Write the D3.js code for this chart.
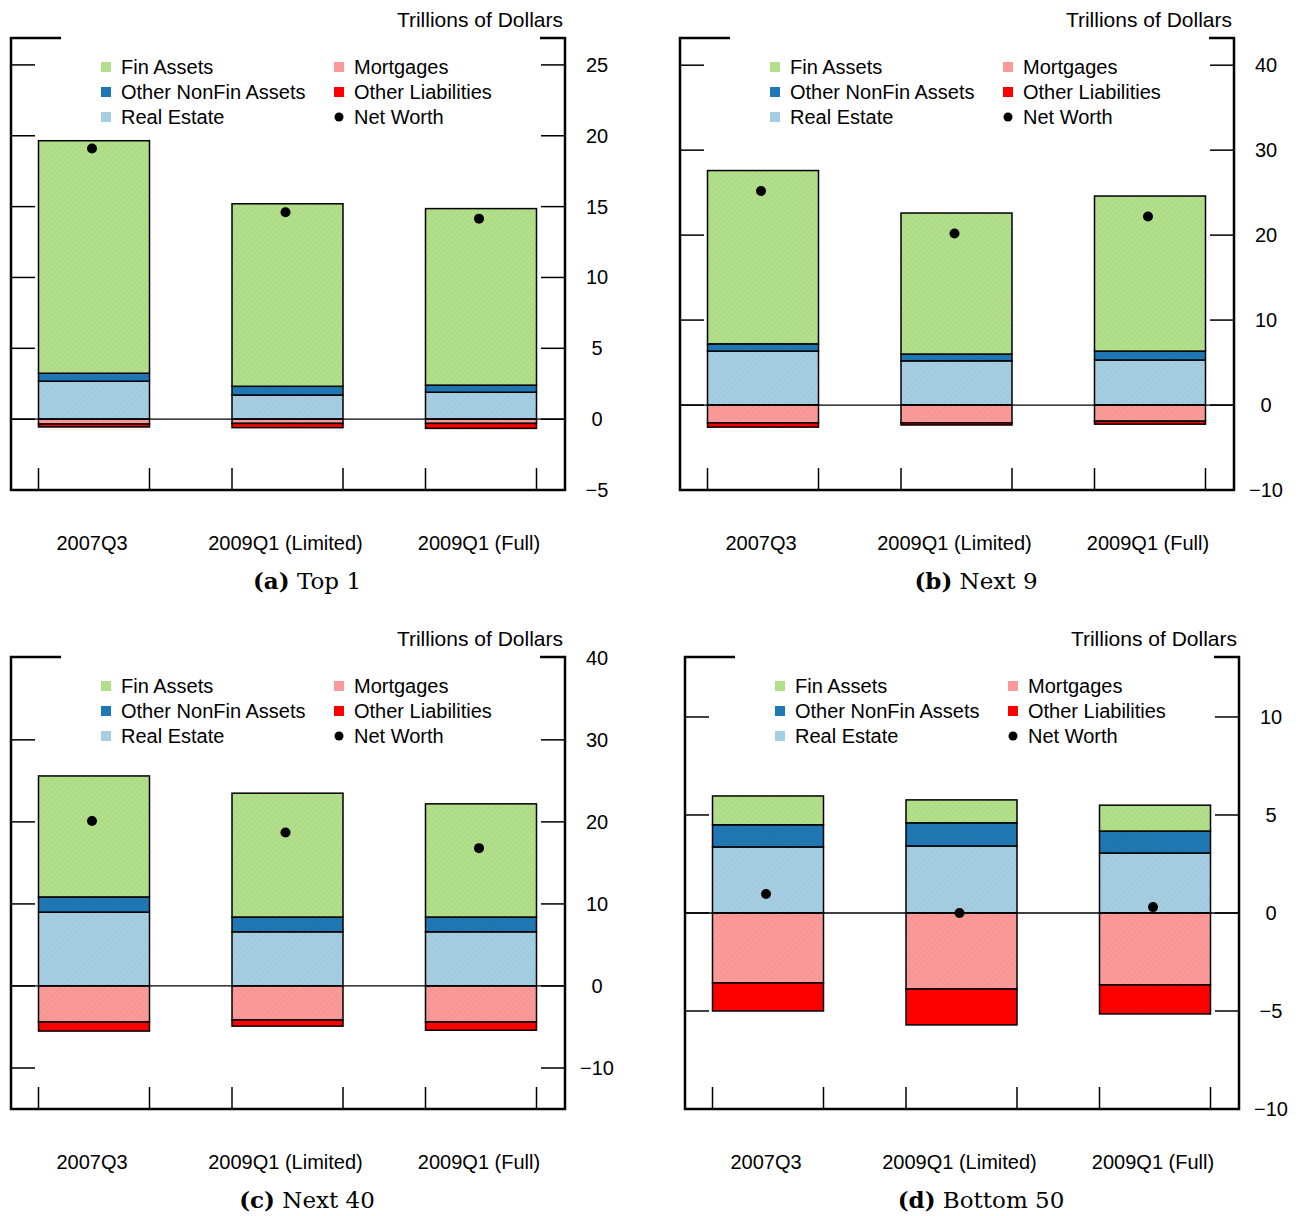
<!DOCTYPE html>
<html><head><meta charset="utf-8">
<script src="https://cdn.jsdelivr.net/npm/d3@7"></script>
<style>body{margin:0;background:#fff}text{font-family:"Liberation Sans",Arial,sans-serif}</style>
</head><body><div id="chart"></div>
<script>
// categories and series (trillions of dollars)
var categories=["2007Q3","2009Q1 (Limited)","2009Q1 (Full)"];
var panelNames=["Top 1","Next 9","Next 40","Bottom 50"];
var panelLetters=["a","b","c","d"];
var realEstate=[[2.68,1.7,1.9],[6.35,5.2,5.3],[9.0,6.6,6.6],[3.37,3.42,3.06]];
var otherNonFin=[[0.56,0.62,0.5],[0.85,0.8,1.05],[1.85,1.8,1.8],[1.13,1.18,1.12]];
var finAssets=[[16.41,12.88,12.46],[20.4,16.6,18.25],[14.75,15.1,13.8],[1.47,1.17,1.32]];
var mortgages=[[0.35,0.3,0.3],[2.1,2.1,1.9],[4.4,4.15,4.4],[3.57,3.88,3.67]];
var otherLiab=[[0.2,0.3,0.35],[0.5,0.25,0.35],[1.1,0.75,1.0],[1.43,1.83,1.48]];
var netWorth=[[19.1,14.6,14.15],[25.2,20.2,22.2],[20.1,18.7,16.8],[0.97,0,0.3]];
var yDomains=[[-5,26.9],[-10,43.2],[-15,40.1],[-10,13.06]];
var yTicks=[[-5,0,5,10,15,20,25],[-10,0,10,20,30,40],[-10,0,10,20,30,40],[-10,-5,0,5,10]];
var seriesNames=["Fin Assets","Other NonFin Assets","Real Estate","Mortgages","Other Liabilities","Net Worth"];
var colors={fin:"#b2df8a",nonfin:"#1f78b4",re:"#a6cee3",mort:"#fb9a99",ol:"#ff0000"};

var W=1301,H=1216,pw=554,ph=452;
var origins=[[11,38],[680,38],[11,657],[685,657]];
var svg=d3.select("#chart").append("svg").attr("width",W).attr("height",H);
var defs=svg.append("defs");
Object.keys(colors).forEach(function(k){
  var p=defs.append("pattern").attr("id","h"+k).attr("patternUnits","userSpaceOnUse")
    .attr("width",4).attr("height",4).attr("patternTransform","rotate(45)");
  p.append("rect").attr("width",4).attr("height",4).attr("fill",colors[k]);
  p.append("line").attr("x1",0).attr("y1",0).attr("x2",0).attr("y2",4)
    .attr("stroke","#000").attr("stroke-opacity",0.08).attr("stroke-width",1);
});

origins.forEach(function(o,i){
  var g=svg.append("g").attr("transform","translate("+o[0]+","+o[1]+")");
  var y=d3.scaleLinear().domain(yDomains[i]).range([ph,0]);
  var x=d3.scalePoint().domain(categories).range([83,470]);
  var bw=111;
  categories.forEach(function(c,j){
    var segs=[
      ["re",0,realEstate[i][j]],
      ["nonfin",realEstate[i][j],realEstate[i][j]+otherNonFin[i][j]],
      ["fin",realEstate[i][j]+otherNonFin[i][j],realEstate[i][j]+otherNonFin[i][j]+finAssets[i][j]],
      ["mort",-mortgages[i][j],0],
      ["ol",-mortgages[i][j]-otherLiab[i][j],-mortgages[i][j]]
    ];
    segs.forEach(function(s){
      g.append("rect").attr("x",x(c)-bw/2).attr("width",bw)
        .attr("y",y(s[2])).attr("height",y(s[1])-y(s[2]))
        .attr("fill","url(#h"+s[0]+")").attr("stroke","#000").attr("stroke-width",1.5);
    });
  });
  // zero line
  g.append("line").attr("x1",0).attr("x2",pw).attr("y1",y(0)).attr("y2",y(0)).attr("stroke","#000").attr("stroke-width",1.3);
  // net worth
  g.selectAll(".nw").data(categories).enter().append("circle")
    .attr("cx",function(c){return x(c)-2;}).attr("cy",function(c,j){return y(netWorth[i][j]);})
    .attr("r",5).attr("fill","#000");
  // frame
  var fr="M50,0H0V"+ph+"H"+pw+"V0H"+(pw-25);
  g.append("path").attr("d",fr).attr("fill","none").attr("stroke","#000").attr("stroke-width",2.5);
  // y ticks both sides
  var ticks=yTicks[i].filter(function(t){return y(t)>2&&y(t)<ph-2;});
  ticks.forEach(function(t){
    g.append("line").attr("x1",0).attr("x2",24).attr("y1",y(t)).attr("y2",y(t)).attr("stroke","#000").attr("stroke-width",1.5);
    g.append("line").attr("x1",pw-24).attr("x2",pw).attr("y1",y(t)).attr("y2",y(t)).attr("stroke","#000").attr("stroke-width",1.5);
  });
  yTicks[i].forEach(function(t){
    g.append("text").attr("x",pw+32).attr("y",y(t)).attr("dy","0.35em").attr("text-anchor","middle")
      .attr("font-size",20).text(t<0?"\u2212"+(-t):t);
  });
  // bottom ticks at bar edges
  categories.forEach(function(c){
    [x(c)-bw/2,x(c)+bw/2].forEach(function(xx){
      g.append("line").attr("x1",xx).attr("x2",xx).attr("y1",ph-22).attr("y2",ph).attr("stroke","#000").attr("stroke-width",1.5);
    });
    g.append("text").attr("x",x(c)-2).attr("y",ph+60).attr("text-anchor","middle").attr("font-size",20).text(c);
  });
  g.append("text").attr("x",pw-2).attr("y",-11).attr("text-anchor","end").attr("font-size",21).text("Trillions of Dollars");
  // legend
  var keys=["fin","nonfin","re","mort","ol","nw"];
  keys.forEach(function(k,m){
    var lx=m<3?90:323, ly=29+(m%3)*25;
    if(k==="nw") g.append("circle").attr("cx",lx+5).attr("cy",ly).attr("r",4.5).attr("fill","#000");
    else g.append("rect").attr("x",lx).attr("y",ly-5).attr("width",10).attr("height",10).attr("fill",colors[k]);
    g.append("text").attr("x",lx+20).attr("y",ly).attr("dy","0.35em").attr("font-size",20).text(seriesNames[m]);
  });
  // caption
  var cap=g.append("text").attr("x",296).attr("y",ph+99).attr("text-anchor","middle")
    .style("font-family","'DejaVu Serif',serif").attr("font-size",23);
  cap.append("tspan").attr("font-weight","bold").text("("+panelLetters[i]+")");
  cap.append("tspan").text(" "+panelNames[i]);
});
</script></body></html>
